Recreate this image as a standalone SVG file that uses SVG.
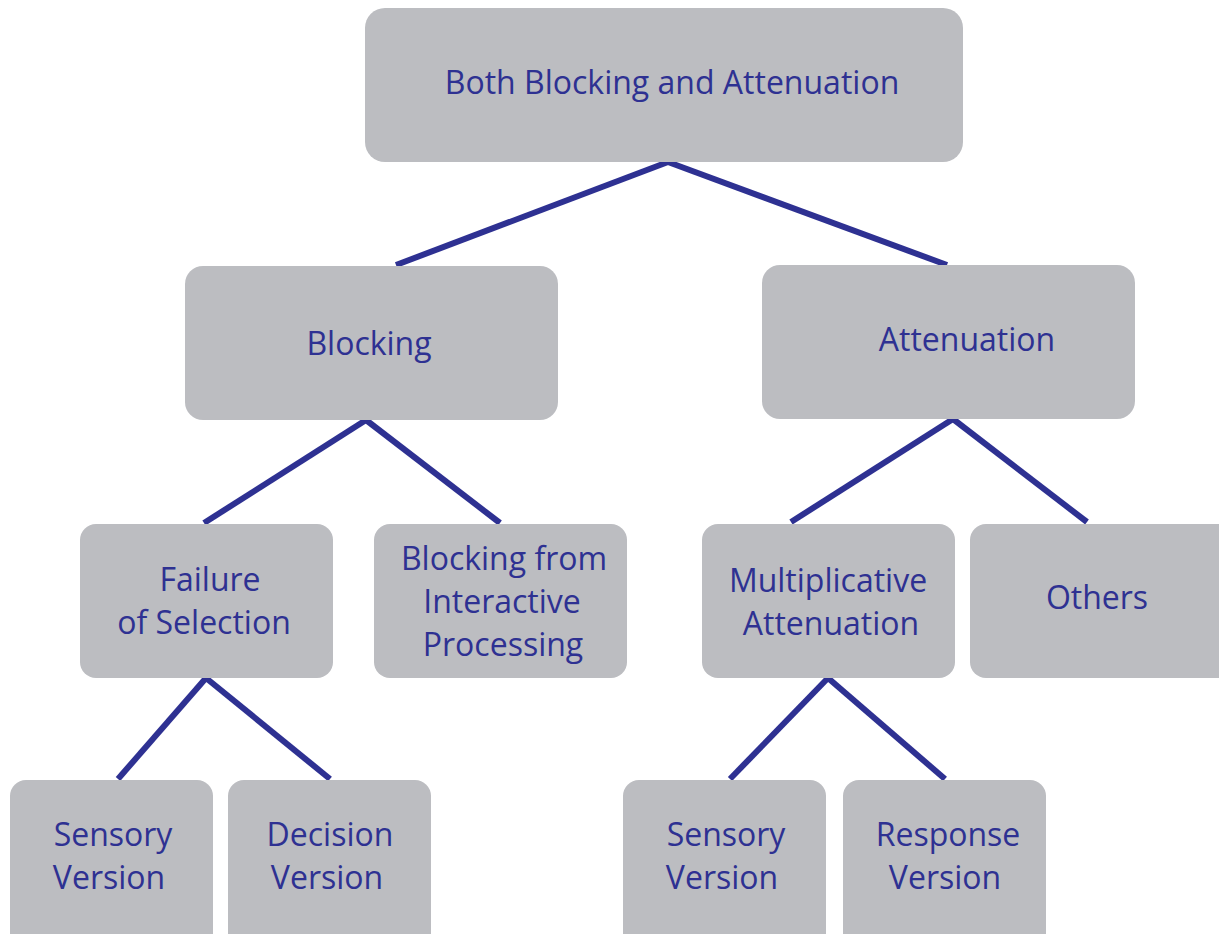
<svg xmlns="http://www.w3.org/2000/svg" width="1219" height="934" viewBox="0 0 1219 934">
<style>
.box{fill:#bcbdc1}
.t{font-family:"Open Sans","Noto Sans",sans-serif;font-size:32px;fill:#2e3192;text-anchor:middle}
.c{stroke:#2e3192;stroke-width:6;fill:none}
</style>
<rect width="1219" height="934" fill="#ffffff"/>
<g id="connectors">
<line class="c" x1="668" y1="162" x2="396" y2="265"/>
<line class="c" x1="668" y1="162" x2="947" y2="265"/>
<line class="c" x1="366" y1="420" x2="204" y2="523"/>
<line class="c" x1="366" y1="420" x2="500" y2="523"/>
<line class="c" x1="953" y1="419" x2="791" y2="522"/>
<line class="c" x1="953" y1="419" x2="1087" y2="522"/>
<line class="c" x1="206" y1="678" x2="118" y2="779"/>
<line class="c" x1="206" y1="678" x2="330" y2="779"/>
<line class="c" x1="828" y1="678" x2="730" y2="779"/>
<line class="c" x1="828" y1="678" x2="945" y2="779"/>
</g>
<g id="n-root"><rect class="box" x="365" y="8" width="598" height="154" rx="20"/><text class="t" x="672" y="94">Both Blocking and Attenuation</text></g>
<g id="n-blocking"><rect class="box" x="185" y="266" width="373" height="154" rx="18"/><text class="t" x="369" y="355">Blocking</text></g>
<g id="n-attenuation"><rect class="box" x="762" y="265" width="373" height="154" rx="18"/><text class="t" x="967" y="351">Attenuation</text></g>
<g id="n-failure"><rect class="box" x="80" y="524" width="253" height="154" rx="16"/><text class="t" x="210" y="591">Failure</text><text class="t" x="204" y="634">of Selection</text></g>
<g id="n-interactive"><rect class="box" x="374" y="524" width="253" height="154" rx="16"/><text class="t" x="504" y="570">Blocking from</text><text class="t" x="502" y="613">Interactive</text><text class="t" x="503" y="656">Processing</text></g>
<g id="n-multiplicative"><rect class="box" x="702" y="524" width="253" height="154" rx="16"/><text class="t" x="828" y="592">Multiplicative</text><text class="t" x="831" y="635">Attenuation</text></g>
<g id="n-others"><rect class="box" x="970" y="524" width="270" height="154" rx="16"/><text class="t" x="1097" y="609">Others</text></g>
<g id="n-sensory1"><rect class="box" x="10" y="780" width="203" height="170" rx="16"/><text class="t" x="113" y="846">Sensory</text><text class="t" x="109" y="889">Version</text></g>
<g id="n-decision"><rect class="box" x="228" y="780" width="203" height="170" rx="16"/><text class="t" x="330" y="846">Decision</text><text class="t" x="327" y="889">Version</text></g>
<g id="n-sensory2"><rect class="box" x="623" y="780" width="203" height="170" rx="16"/><text class="t" x="726" y="846">Sensory</text><text class="t" x="722" y="889">Version</text></g>
<g id="n-response"><rect class="box" x="843" y="780" width="203" height="170" rx="16"/><text class="t" x="948" y="846">Response</text><text class="t" x="945" y="889">Version</text></g>
</svg>
